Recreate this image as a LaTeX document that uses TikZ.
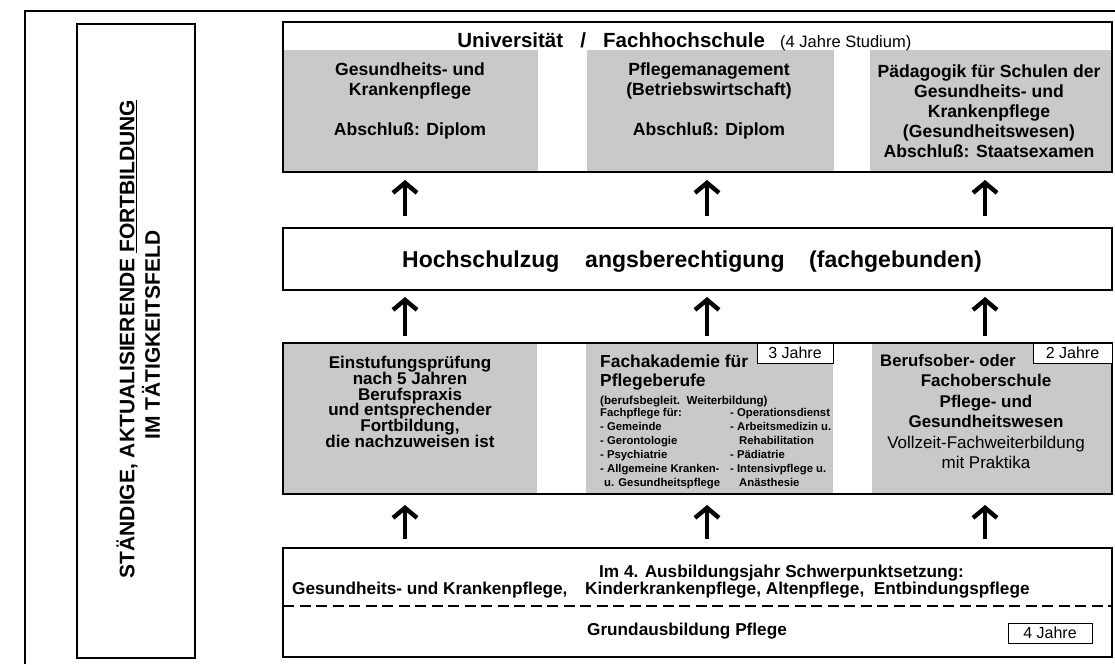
\documentclass[tikz,border=0pt]{standalone}
\usepackage{fontspec}
\setmainfont{Liberation Sans}
\usetikzlibrary{arrows.meta}
\newcommand\fsz[2]{\fontsize{#1}{#2}\selectfont}
\newcommand\tightlines{\lineskiplimit=-20pt\relax}
\begin{document}
\begin{tikzpicture}[x=1pt,y=-1pt,
  frameline/.style={line width=1.3pt},
  boxline/.style={draw=black,line width=1.2pt},
  grayfill/.style={fill=black!21},
  yearbox/.style={draw=black,fill=white,line width=1pt},
  upar/.style={line width=3.8pt,-{Straight Barb[length=10pt,width=24pt,line width=4.4pt]}},
  big/.style={inner sep=0pt,font=\bfseries\fsz{17.6}{20},align=center},
  mid/.style={inner sep=0pt,font=\bfseries\fsz{17}{15.7}\tightlines,align=center},
  small/.style={inner sep=0pt,font=\bfseries\fsz{11.3}{14}\tightlines,align=left},
  yeartxt/.style={inner sep=0pt,font=\fsz{16}{18}},
  bottomtxt/.style={inner sep=0pt,font=\bfseries\fsz{17.2}{19}}
]
\useasboundingbox (0,0) rectangle (1115,664);
\fill[white] (0,0) rectangle (1115,664);

% outer frame
\draw[frameline] (25,664) -- (25,11) -- (1115,11);

% left box
\draw[boxline] (77,24) rectangle (195,658);
\node[rotate=90,inner sep=0pt,font=\bfseries\fsz{21}{24}] (lt1) at (127,339) {STÄNDIGE, AKTUALISIERENDE \underline{FORTBILDUNG}};
\node[rotate=90,inner sep=0pt,font=\bfseries\fsz{21}{24}] (lt2) at (151,335) {IM TÄTIGKEITSFELD};

% top box
\fill[grayfill] (283,50) rectangle (538,172);
\fill[grayfill] (587,50) rectangle (834,172);
\fill[grayfill] (870,50) rectangle (1112,172);
\draw[boxline] (283,22) rectangle (1112,172);
\node[anchor=base west,inner sep=0pt,font=\bfseries\fsz{20.5}{22}] (title) at (463,47)
  {\makebox[100pt][r]{Universität}\makebox[40pt][c]{/}\makebox[177pt][l]{Fachhochschule}{\mdseries\fsz{16.5}{20}(4 Jahre Studium)}};
\node[big] (u1) at (410,101) {Gesundheits- und\\Krankenpflege\\[20pt]Abschluß: Diplom};
\node[big] (u2) at (709,101) {Pflegemanagement\\(Betriebswirtschaft)\\[20pt]Abschluß: Diplom};
\node[big] (u3) at (989,111) {Pädagogik für Schulen der\\Gesundheits- und\\Krankenpflege\\(Gesundheitswesen)\\Abschluß: Staatsexamen};

% Hochschulzugangsberechtigung
\draw[boxline] (283,228) rectangle (1112,290);
\node[anchor=base west,inner sep=0pt,font=\bfseries\fsz{23}{24}] (hs) at (402,267)
  {\makebox[183pt][l]{Hochschulzug}\makebox[224pt][l]{angsberechtigung}(fachgebunden)};

% lower row
\fill[grayfill] (283,343) rectangle (537,494);
\fill[grayfill] (586,343) rectangle (833,494);
\fill[grayfill] (872,343) rectangle (1112,494);
\draw[boxline] (283,343) rectangle (1112,494);
\draw[yearbox] (757,343) rectangle (833,363);
\draw[yearbox] (1033,343) rectangle (1112,363);
\node[yeartxt] (j3) at (795,353) {3 Jahre};
\node[yeartxt] (j2) at (1072.5,353) {2 Jahre};

\node[mid] (l1) at (410,402) {Einstufungsprüfung\\nach 5 Jahren\\Berufspraxis\\und entsprechender\\Fortbildung,\\die nachzuweisen ist};

\node[anchor=base west,inner sep=0pt,font=\bfseries\fsz{17.4}{20}] (fa1) at (600,367) {Fachakademie für};
\node[anchor=base west,inner sep=0pt,font=\bfseries\fsz{17.4}{20}] (fa2) at (600,386) {Pflegeberufe};
\node[anchor=base west,inner sep=0pt,font=\bfseries\fsz{11.6}{14}] (fa3) at (600,404) {(berufsbegleit.\ \ Weiterbildung)};
\node[small,anchor=north west] (fl) at (600,408) {Fachpflege für:\\- Gemeinde\\- Gerontologie\\- Psychiatrie\\- Allgemeine Kranken-\\\hspace*{4pt}u. Gesundheitspflege};
\node[small,anchor=north west] (fr) at (730,408) {- Operationsdienst\\- Arbeitsmedizin u.\\\hspace*{9pt}Rehabilitation\\- Pädiatrie\\- Intensivpflege u.\\\hspace*{9pt}Anästhesie};

\node[anchor=base west,inner sep=0pt,font=\bfseries\fsz{16.7}{20}] (bo) at (880,366) {Berufsober- oder};
\node[inner sep=0pt,font=\bfseries\fsz{17}{20.5},align=center,anchor=north] (fo) at (986,374)
  {Fachoberschule\\Pflege- und\\Gesundheitswesen\\\mdseries Vollzeit-Fachweiterbildung\\\mdseries mit Praktika};

% bottom box
\draw[boxline] (283,548) rectangle (1112,657);
\draw[line width=1.3pt,dash pattern=on 11pt off 5.5pt] (283,606) -- (1112,606);
\node[anchor=base west,bottomtxt] (b1) at (599,577) {Im 4. Ausbildungsjahr Schwerpunktsetzung:};
\node[anchor=base west,bottomtxt] (b2) at (292,594)
  {\makebox[293pt][l]{Gesundheits- und Krankenpflege,}Kinderkrankenpflege, Altenpflege,\ \ Entbindungspflege};
\node[bottomtxt] (b3) at (687,631) {Grundausbildung Pflege};
\draw[yearbox] (1008,623) rectangle (1092,643);
\node[yeartxt] (j4) at (1050,633) {4 Jahre};

% arrows
\foreach \i/\x in {1/405,2/707,3/985}{
  \coordinate (r1s\i) at (\x,216); \coordinate (r1e\i) at (\x,180);
  \coordinate (r2s\i) at (\x,336); \coordinate (r2e\i) at (\x,297);
  \coordinate (r3s\i) at (\x,539); \coordinate (r3e\i) at (\x,505);
  \draw[upar] (r1s\i) -- (r1e\i);
  \draw[upar] (r2s\i) -- (r2e\i);
  \draw[upar] (r3s\i) -- (r3e\i);
}
\end{tikzpicture}
\end{document}
